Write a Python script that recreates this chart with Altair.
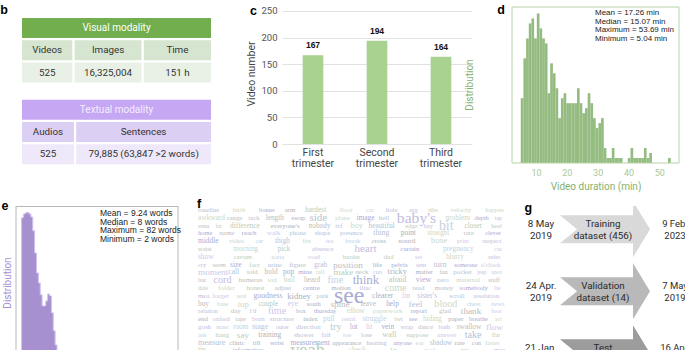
import altair as alt
import pandas as pd

# ===================== values =====================
visual_title = "Visual modality"
visual_headers = ["Videos", "Images", "Time"]
visual_values = ["525", "16,325,004", "151 h"]
textual_title = "Textual modality"
textual_headers = ["Audios", "Sentences"]
textual_values = ["525", "79,885 (63,847 >2 words)"]

trimesters = ["First trimester", "Second trimester", "Third trimester"]
trimester_videos = [167, 194, 164]

duration_first_edge = 5.04
duration_bin_width = 0.869
duration_counts = [13, 21, 25, 28, 29, 25, 30, 27, 25, 24, 14, 20, 18, 15, 9, 13, 14, 12, 12, 12,
                   12, 15, 12, 10, 11, 14, 12, 9, 7, 8, 9, 3, 1, 1, 3, 1, 1, 1, 0, 0,
                   1, 3, 1, 1, 1, 1, 3, 1, 2, 0, 0, 0, 0, 0, 0, 1]
duration_stats = ["Mean = 17.26 min", "Median = 15.07 min", "Maximum = 53.69 min", "Minimum = 5.04 min"]

sentence_min_words = 2
sentence_counts = [6070, 6210, 6250, 6260, 6210, 6100, 5600, 4800, 4080, 3720, 3290, 2890, 2890, 3070,
                   3320, 3250, 2640, 1990, 1480, 1010, 540, 400, 300, 220, 160, 120, 90, 70, 50]
sentence_stats = ["Mean = 9.24 words", "Median = 8 words", "Maximum = 82 words", "Minimum = 2 words"]

cloud_rows = [
    [("baseline", 28), ("birth", 30), ("bonus", 28), ("arm", 30), ("hardest", 32), ("floor", 30), ("cat", 28),
     ("hole", 30), ("egg", 26), ("ribs", 28), ("velocity", 28), ("happen", 28)],
    [("awkward", 32), ("range", 30), ("tuck", 28), ("length", 32), ("swap", 30), ("side", 48), ("plane", 30),
     ("image", 32), ("hell", 30), ("baby's", 68), ("problem", 32), ("depth", 28), ("tap", 26)],
    [("vena", 26), ("fat", 26), ("difference", 32), ("everyone's", 30), ("nobody", 32), ("ivf", 28), ("boy", 36),
     ("beautiful", 32), ("edge", 28), ("bay", 28), ("bit", 60), ("closer", 32), ("heel", 28)],
    [("home", 28), ("name", 30), ("reach", 30), ("walk", 30), ("phone", 30), ("shape", 30), ("presence", 28),
     ("thing", 34), ("point", 32), ("straight", 32), ("rare", 28), ("clever", 28)],
    [("middle", 32), ("video", 30), ("car", 28), ("thigh", 32), ("fist", 30), ("tea", 28), ("break", 30),
     ("cross", 30), ("nostril", 30), ("bone", 36), ("print", 28), ("suspect", 28)],
    [("waist", 28), ("morning", 32), ("pick", 32), ("absence", 30), ("heart", 48), ("curtain", 30),
     ("pregnancy", 32), ("car", 28)],
    [("show", 32), ("cavum", 30), ("aorta", 28), ("road", 30), ("harder", 30), ("dad", 30), ("set", 28),
     ("blurry", 32), ("refer", 28)],
    [("cry", 28), ("seem", 28), ("size", 32), ("fact", 30), ("urine", 30), ("figure", 30), ("grab", 32),
     ("position", 40), ("life", 30), ("pelvis", 30), ("sent", 28), ("turn", 36), ("someone", 28), ("o'clock", 30)],
    [("moment", 40), ("call", 32), ("told", 30), ("bold", 32), ("pop", 32), ("mine", 30), ("tall", 30),
     ("make", 40), ("neck", 30), ("run", 30), ("tricky", 36), ("matter", 30), ("fan", 28), ("pocket", 30),
     ("yep", 28), ("spot", 28)],
    [("bar", 28), ("cord", 44), ("humerus", 30), ("sad", 30), ("ball", 32), ("heard", 32), ("fine", 44),
     ("think", 56), ("afraid", 32), ("view", 34), ("zero", 30), ("maternal", 30), ("stuff", 28)],
    [("date", 26), ("folder", 30), ("honest", 30), ("adjust", 30), ("centre", 30), ("motion", 30), ("iliac", 30),
     ("come", 44), ("read", 30), ("money", 30), ("somebody", 30), ("lie", 28)],
    [("mea", 30), ("forget", 30), ("seat", 28), ("goodness", 34), ("kidney", 38), ("park", 30), ("see", 104),
     ("clearer", 34), ("lin", 32), ("sister's", 32), ("scroll", 30), ("resolution", 28)],
    [("buy", 32), ("base", 28), ("top", 38), ("couple", 32), ("eye", 32), ("south", 28), ("spine", 40),
     ("leave", 32), ("help", 32), ("feel", 40), ("blood", 44), ("chest", 30), ("news", 28)],
    [("relation", 28), ("day", 30), ("i'd", 30), ("time", 44), ("box", 28), ("thursday", 28), ("elbow", 32),
     ("paperwork", 30), ("report", 30), ("glad", 30), ("thank", 40), ("foot", 28)],
    [("end", 30), ("oxford", 28), ("tape", 28), ("born", 30), ("structure", 30), ("index", 28), ("pull", 32),
     ("renal", 30), ("struggle", 32), ("bet", 30), ("see", 28), ("hiding", 32), ("paper", 30), ("breathe", 28),
     ("act", 26)],
    [("gosh", 30), ("mass", 26), ("room", 32), ("stage", 34), ("outer", 28), ("direction", 30), ("try", 44),
     ("lot", 32), ("fit", 32), ("vein", 32), ("wrap", 28), ("dance", 28), ("bath", 30), ("swallow", 32),
     ("flow", 40)],
    [("ask", 28), ("hang", 30), ("say", 40), ("training", 32), ("shower", 30), ("fall", 30), ("toe", 30),
     ("lose", 30), ("wall", 36), ("suppose", 30), ("answer", 30), ("take", 44), ("flat", 26)],
    [("measure", 36), ("clinic", 30), ("till", 30), ("wrist", 30), ("measurement", 32), ("appearance", 28),
     ("heating", 30), ("anyone", 28), ("ear", 30), ("shadow", 32), ("rate", 30), ("con", 28), ("faster", 28)],
    [("tip", 32), ("information", 28), ("yeah", 80), ("check", 32), ("fat", 28), ("cool", 28), ("gas", 28),
     ("man", 28)],
]

split_names = [["Training", "dataset (456)"], ["Validation", "dataset (14)"], ["Test"]]
split_start = [["8 May", "2019"], ["24 Apr.", "2019"], ["21 Jan."]]
split_end = [["9 Feb.", "2023"], ["7 May", "2019"], ["16 Apr."]]

# ===================== styling / layout =====================
FONT = "Roboto"
SANS = "Liberation Sans"
SERIF = "Liberation Serif"
ONE = pd.DataFrame({"k": [0]})


def letter(ch, x, y):
    return alt.Chart(pd.DataFrame({"t": [ch]})).mark_text(
        font=SANS, fontSize=12.5, fontWeight="bold", color="#000000", align="center", baseline="middle"
    ).encode(text="t:N", x=alt.value(x), y=alt.value(y))


# ---------------- panel b : tables ----------------
B_W, B_H = 282, 165
TBL_L, TBL_R, ROW_H, GAP = 22, 211, 20, 2.3


def table(top, title, headers, values, col_weights, shades, title_color):
    out = [dict(x=TBL_L, x2=TBL_R, y=top, y2=top + ROW_H, fill=shades[0], label=title, tc=title_color, fs=10)]
    avail = TBL_R - TBL_L - GAP * (len(headers) - 1)
    x = TBL_L
    for h, v, w in zip(headers, values, col_weights):
        cw = avail * w / sum(col_weights)
        for k, (lab, shade) in enumerate([(h, shades[1]), (v, shades[2])]):
            y0 = top + (k + 1) * (ROW_H + GAP)
            out.append(dict(x=x, x2=x + cw, y=y0, y2=y0 + ROW_H, fill=shade, label=lab, tc="#333333", fs=9.8))
        x += cw + GAP
    return out


cells = pd.DataFrame(
    table(15, visual_title, visual_headers, visual_values, [50.7, 67.3, 67.7],
          ["#72ad4e", "#d6e5d0", "#e9f1e6"], "#ffffff")
    + table(96.7, textual_title, textual_headers, textual_values, [52, 135],
            ["#c6a7f4", "#dccff4", "#eee8fa"], "#f4eeff")
)
cells["xc"] = (cells.x + cells.x2) / 2
cells["yc"] = (cells.y + cells.y2) / 2

bsx = alt.Scale(domain=[0, B_W], nice=False, zero=False)
bsy = alt.Scale(domain=[0, B_H], nice=False, zero=False, reverse=True)
b_rect = alt.Chart(cells).mark_rect().encode(
    x=alt.X("x:Q", scale=bsx, axis=None), x2="x2:Q",
    y=alt.Y("y:Q", scale=bsy, axis=None), y2="y2:Q",
    fill=alt.Fill("fill:N", scale=None),
)
b_text = alt.Chart(cells).mark_text(font=FONT, baseline="middle", align="center").encode(
    x=alt.X("xc:Q", scale=bsx, axis=None), y=alt.Y("yc:Q", scale=bsy, axis=None),
    text="label:N", color=alt.Color("tc:N", scale=None), size=alt.Size("fs:Q", scale=None),
)
b_chart = alt.layer(b_rect, b_text, letter("b", 4, 6.5), letter("c", 253.5, 7.5)).properties(width=B_W, height=B_H)

# ---------------- panel c : bar chart ----------------
c_df = pd.DataFrame({"trimester": trimesters, "videos": trimester_videos})
c_base = alt.Chart(c_df).encode(
    x=alt.X("trimester:N", sort=trimesters, scale=alt.Scale(paddingInner=0.677, paddingOuter=0.323),
            axis=alt.Axis(title=None, labelAngle=0, labelExpr="split(datum.label, ' ')", domain=False, ticks=False,
                          labelFont=FONT, labelFontSize=10.5, labelColor="#444444", labelPadding=3,
                          labelLineHeight=11)),
    y=alt.Y("videos:Q", scale=alt.Scale(domain=[0, 265], nice=False),
            axis=alt.Axis(values=[0, 50, 100, 150, 200, 250], title="Video number", grid=True,
                          gridColor="#e2e2e2", domain=False, ticks=False, labelFont=FONT, labelFontSize=9.5,
                          labelColor="#555555", labelPadding=5, titleFont=FONT, titleFontSize=10.5,
                          titleColor="#444444", titleFontWeight="normal", titlePadding=4)),
)
c_chart = alt.layer(
    c_base.mark_bar(color="#a9d18f"),
    c_base.mark_text(font=SANS, fontSize=8.5, fontWeight="bold", dy=-10, baseline="middle", color="#111111")
    .encode(text="videos:Q"),
).properties(width=190, height=141)

spacer = alt.Chart(ONE).mark_point(opacity=0).encode(x=alt.value(0), y=alt.value(0)).properties(width=40, height=10)

# ---------------- panel d : duration histogram ----------------
D_W, D_H = 167, 160
d_df = pd.DataFrame({"count": duration_counts})
d_df["start"] = duration_first_edge + duration_bin_width * d_df.index
d_df["end"] = d_df["start"] + duration_bin_width
d_hist = alt.Chart(d_df).mark_rect(color="#94bb80").encode(
    x=alt.X("start:Q", scale=alt.Scale(domain=[2.2, 56.4], nice=False, zero=False),
            axis=alt.Axis(values=[10, 20, 30, 40, 50], title="Video duration (min)", grid=False, ticks=False,
                          domain=False, labelFont=FONT, labelFontSize=9, labelColor="#a9c99b", labelPadding=5,
                          titleFont=FONT, titleFontSize=10, titleFontWeight="normal", titleColor="#86b26f",
                          titlePadding=4)),
    x2="end:Q",
    y=alt.Y("count:Q", scale=alt.Scale(domain=[0, 32.1], nice=False), axis=None),
    y2=alt.datum(0),
)
d_frame = alt.Chart(ONE).mark_rect(fillOpacity=0, stroke="#b7d4a9", strokeWidth=1).encode(
    x=alt.value(0), x2=alt.value(D_W), y=alt.value(4), y2=alt.value(D_H))
d_stats = alt.Chart(pd.DataFrame({"t": ["\n".join(duration_stats)]})).mark_text(
    lineBreak="\n", align="left", baseline="top", font=SANS, fontSize=8, lineHeight=8.7, color="#222222"
).encode(text="t:N", x=alt.value(83), y=alt.value(6))
d_ytitle = alt.Chart(pd.DataFrame({"t": ["Distribution"]})).mark_text(
    angle=270, font=FONT, fontSize=10, color="#86b26f", align="center", baseline="middle"
).encode(text="t:N", x=alt.value(-42), y=alt.value(82))
d_chart = alt.layer(d_hist, d_frame, d_stats, d_ytitle, letter("d", -11, 6.5)).properties(width=D_W, height=D_H)

# ---------------- panel e : sentence-length histogram ----------------
E_W, E_H = 190, 147
e_df = pd.DataFrame({"words": [sentence_min_words + i for i in range(len(sentence_counts))],
                     "count": sentence_counts})
e_area_df = pd.concat([e_df, pd.DataFrame({"words": [sentence_min_words + len(sentence_counts)], "count": [0]})],
                      ignore_index=True)
esx = alt.Scale(domain=[-9.593, 92.44], nice=False, zero=False)
esy = alt.Scale(domain=[1191, 6498], nice=False, zero=False)
e_area = alt.Chart(e_area_df).mark_area(
    interpolate="step-after", color="#a690cf", stroke="#cfc0ef", strokeWidth=1, clip=True
).encode(x=alt.X("words:Q", scale=esx, axis=None), y=alt.Y("count:Q", scale=esy, axis=None), y2=alt.datum(0))
FRAME_GRAY = "#b8b8b8"
e_left = alt.Chart(ONE).mark_rule(color=FRAME_GRAY, strokeWidth=1).encode(
    x=alt.X(datum=-1, scale=esx, axis=None), y=alt.value(0), y2=alt.value(E_H + 5))
e_right = alt.Chart(ONE).mark_rule(color=FRAME_GRAY, strokeWidth=1).encode(
    x=alt.X(datum=86, scale=esx, axis=None), y=alt.value(0), y2=alt.value(E_H + 5))
e_top = alt.Chart(ONE).mark_rule(color=FRAME_GRAY, strokeWidth=1).encode(
    x=alt.X(datum=-1, scale=esx, axis=None), x2=alt.X2(datum=86), y=alt.value(0.5))
e_stats = alt.Chart(pd.DataFrame({"t": ["\n".join(sentence_stats)]})).mark_text(
    lineBreak="\n", align="left", baseline="top", font=SANS, fontSize=8.5, lineHeight=8.5, color="#222222"
).encode(text="t:N", x=alt.value(100), y=alt.value(3))
e_ytitle = alt.Chart(pd.DataFrame({"t": ["Distribution"]})).mark_text(
    angle=270, font=FONT, fontSize=10, color="#a68fd6", align="center", baseline="middle"
).encode(text="t:N", x=alt.value(8), y=alt.value(77))
e_chart = alt.layer(e_area, e_left, e_right, e_top, e_stats, e_ytitle, letter("e", 5, 0)).properties(
    width=E_W, height=E_H)

# ---------------- panel f : word cloud ----------------
F_W, F_H = 315, 147
CLOUD_X0, CLOUD_X1, CLOUD_Y0, CLOUD_STEP = 8, 313, 4, 7.8
CLOUD_COLORS = ["#b9cdb9", "#c3bce0", "#a9abd2", "#bdbdbd", "#c3d2e2", "#a9b2bc", "#cbd8c6", "#b4c3d6",
                "#cdc8e8"]
words = []
for i, row in enumerate(cloud_rows):
    widths = [len(w) * 0.46 * f * 0.23 for w, f in row]
    gap = (CLOUD_X1 - CLOUD_X0 - sum(widths)) / max(1, len(row) - 1)
    x = CLOUD_X0
    for (w, f), wd in zip(row, widths):
        words.append(dict(word=w, freq=f, x=x, y=CLOUD_Y0 + i * CLOUD_STEP,
                          color=CLOUD_COLORS[sum(ord(ch) for ch in w) % len(CLOUD_COLORS)]))
        x += wd + gap
words = pd.DataFrame(words)
f_words = alt.Chart(words).mark_text(font=SERIF, align="left", baseline="middle", clip=True).encode(
    x=alt.X("x:Q", scale=alt.Scale(domain=[0, F_W], nice=False, zero=False), axis=None),
    y=alt.Y("y:Q", scale=alt.Scale(domain=[0, F_H], nice=False, zero=False, reverse=True), axis=None),
    text="word:N",
    size=alt.Size("freq:Q", scale=alt.Scale(domain=[0, 100], range=[0, 23]), legend=None),
    color=alt.Color("color:N", scale=None),
)
f_chart = alt.layer(f_words, letter("f", 9, -2)).properties(width=F_W, height=F_H)

# ---------------- panel g : dataset split arrows ----------------
G_W, G_H = 180, 147
ARROW_X, ARROW_Y0, ARROW_STEP = 100, 23.3, 62
ARROW_PATH = "M -1 -0.311 L 0.622 -0.311 L 0.622 -0.622 L 1 0 L 0.622 0.622 L 0.622 0.311 L -1 0.311 L -0.622 0 Z"
ARROW_GRAYS = ["#d9d9d9", "#b9b9b9", "#9c9c9c"]
gsx = alt.Scale(domain=[0, G_W], nice=False, zero=False)
gsy = alt.Scale(domain=[0, G_H], nice=False, zero=False, reverse=True)
arrows = pd.DataFrame({"x": [ARROW_X] * len(split_names),
                       "y": [ARROW_Y0 + i * ARROW_STEP for i in range(len(split_names))],
                       "c": ARROW_GRAYS[:len(split_names)]})
g_arrows = alt.Chart(arrows).mark_point(shape=ARROW_PATH, size=8100, filled=True, opacity=1, strokeWidth=0,
                                        clip=True).encode(
    x=alt.X("x:Q", scale=gsx, axis=None), y=alt.Y("y:Q", scale=gsy, axis=None),
    fill=alt.Fill("c:N", scale=None))
LINE_OFF = [-5.0, 6.8]
glines = []
for i in range(len(split_names)):
    mid = ARROW_Y0 + i * ARROW_STEP
    for col_x, lines, fs in [(98, split_names[i], 9.8), (36, split_start[i], 9.8), (170, split_end[i], 9.5)]:
        for j, ln in enumerate(lines):
            glines.append(dict(x=col_x, y=mid + LINE_OFF[j], t=ln, fs=fs))
glines = pd.DataFrame(glines)
g_text = alt.Chart(glines).mark_text(font=FONT, align="center", baseline="middle", color="#2b2b2b",
                                     clip=True).encode(
    x=alt.X("x:Q", scale=gsx, axis=None), y=alt.Y("y:Q", scale=gsy, axis=None), text="t:N",
    size=alt.Size("fs:Q", scale=None))
g_chart = alt.layer(g_arrows, g_text, letter("g", 23.3, 1.5)).properties(width=G_W, height=G_H)

# ---------------- assemble ----------------
top = alt.hconcat(b_chart, c_chart, spacer, d_chart, spacing=0, bounds="flush")
bottom = alt.hconcat(e_chart, f_chart, g_chart, spacing=0, bounds="flush")
chart = alt.vconcat(top, bottom, spacing=203, bounds="flush").properties(
    padding={"left": 0, "top": 0, "right": 0, "bottom": 0}, background="white"
).configure_view(stroke=None)

chart.save("out.html", embed_options={"renderer": "svg", "actions": False})
